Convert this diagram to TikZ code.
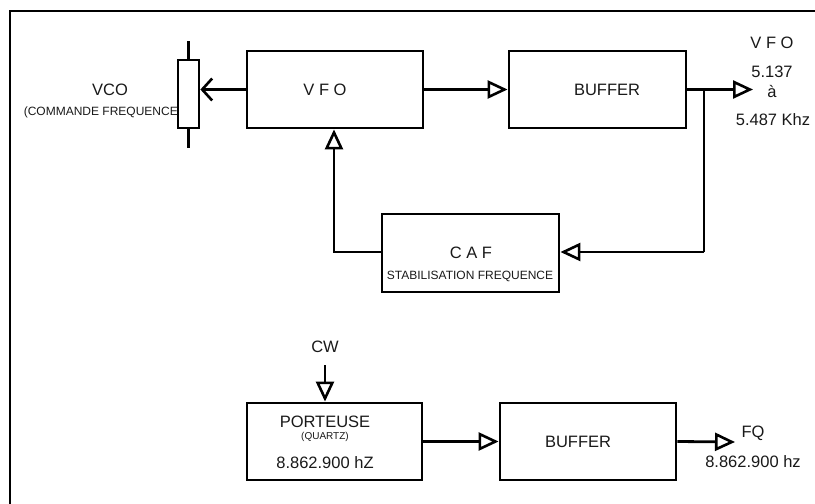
\documentclass[tikz,border=0pt]{standalone}
\usepackage{fontspec}
\setmainfont{Liberation Sans}
\usetikzlibrary{arrows.meta}
\tikzset{
  blk/.style={draw, line width=2.8pt, minimum width=#1, minimum height=77pt, inner sep=0pt},
  big/.style={font=\fontsize{16.5}{18}\selectfont, inner sep=0pt, text=black!90},
  mid/.style={font=\fontsize{12}{13}\selectfont, inner sep=0pt, text=black!90},
  sml/.style={font=\fontsize{10}{11}\selectfont, inner sep=0pt, text=black!90},
  wire/.style={line width=2.8pt},
  tri/.style={wire, -{Triangle[open, length=20pt, width=18pt, line width=2.6pt]}},
  barb/.style={wire, -{Straight Barb[length=10pt, width=22pt, line width=2.6pt]}},
}
\begin{document}
\begin{tikzpicture}[x=1pt,y=-1pt]
\useasboundingbox (0,0) rectangle (815,504);
% frame
\draw[line width=1.6pt] (10,504) -- (10,11) -- (815,11);

% boxes
\node[draw, line width=2.8pt, minimum width=21pt, minimum height=68pt, inner sep=0pt] (pot) at (188.5,94) {};
\node[blk=176pt] (vfo) at (335,89.5) {};
\node[blk=177pt] (buf1) at (597.5,89.5) {};
\node[blk=177pt, minimum height=78pt] (caf) at (470.5,253) {};
\node[blk=175pt] (port) at (334.5,441.5) {};
\node[blk=176pt] (buf2) at (588,441.5) {};

% coordinates
\coordinate (potT) at (188.5,41);
\coordinate (potB) at (188.5,148);
\coordinate (out1) at (753,89.5);
\coordinate (br) at (704,89.5);
\coordinate (brD) at (704,252);
\coordinate (cafL) at (334,252);
\coordinate (cw) at (325,365);
\coordinate (out2) at (735,442);

% texts
\node[big] (tvco) at (110,90) {VCO};
\node[mid, anchor=east] (tcmd) at (178,112) {(COMMANDE FREQUENCE};
\node[big] (tvfo) at (325,90) {V F O};
\node[big] (tbuf1) at (607,90) {BUFFER};
\node[big] (tvfo2) at (772,43) {V F O};
\node[big] (tf1) at (772,72) {5.137};
\node[big] (ta) at (772,92) {à};
\node[big] (tf2) at (773,120) {5.487 Khz};
\node[big] (tcaf) at (471,253) {C A F};
\node[mid] (tstab) at (470,276) {STABILISATION FREQUENCE};
\node[big] (tcw) at (325,347) {CW};
\node[big] (tport) at (325,422) {PORTEUSE};
\node[sml] (tq) at (325,437) {(QUARTZ)};
\node[big] (tf3) at (325,463) {8.862.900 hZ};
\node[big] (tbuf2) at (578,442) {BUFFER};
\node[big] (tfq) at (753,433) {FQ};
\node[big] (tf4) at (753,462) {8.862.900 hz};

% connectors
\draw[wire] (pot.north) -- (potT);
\draw[wire] (pot.south) -- (potB);
\draw[barb] (vfo.west) -- (pot.east |- vfo.west);
\draw[tri] (vfo.east) -- (buf1.west);
\draw[tri] (buf1.east) -- (out1);
\draw[wire] (br) -- (brD);
\draw[tri] (brD) -- (caf.east |- brD);
\draw[tri] (caf.west |- cafL) -- (cafL) -- (cafL |- vfo.south);
\draw[tri] (cw) -- (cw |- port.north);
\draw[tri] (port.east) -- (buf2.west);
\draw[tri] (buf2.east) -- (out2);
\end{tikzpicture}
\end{document}
